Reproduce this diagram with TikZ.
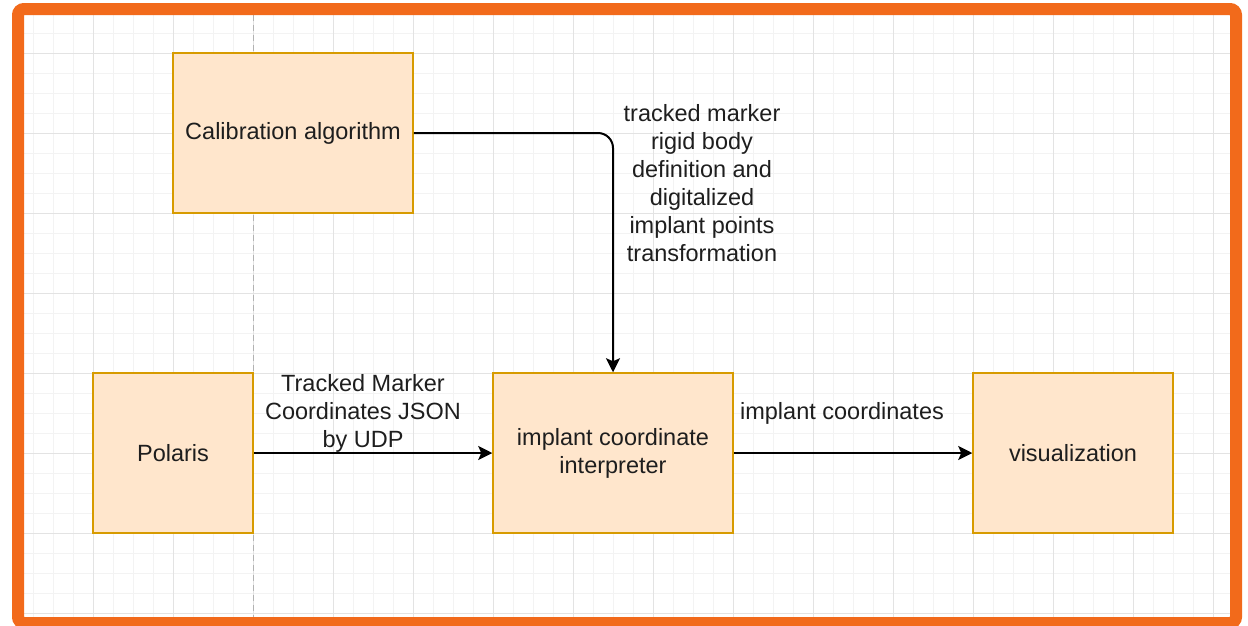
\documentclass[tikz,border=0pt]{standalone}
\usepackage{fontspec}
\setmainfont{Liberation Sans}
\usepackage{tikz}
\usetikzlibrary{arrows.meta}
\definecolor{frameorange}{RGB}{242,106,27}
\definecolor{stagefill}{HTML}{FFE6CC}
\definecolor{stageline}{HTML}{D79B00}
\definecolor{gridminor}{HTML}{F3F3F3}
\definecolor{gridmajor}{HTML}{E3E3E3}
\definecolor{inkgray}{HTML}{1E1E1E}
\tikzstyle{stage} = [rectangle, minimum width=240pt, minimum height=160pt, align=center, draw=stageline, fill=stagefill, line width=1.5pt, text=inkgray, font=\fontsize{23.5}{28}\selectfont]
\tikzstyle{note} = [align=center, text=inkgray, font=\fontsize{23.5}{28}\selectfont]
\tikzset{arw/.style={-{Stealth[length=14pt,width=14pt,inset=3pt]},line width=2pt}}

\begin{document}
\begin{tikzpicture}[x=1pt, y=-1pt, node distance=320pt]
			\useasboundingbox (0,0) rectangle (1248,625);
			\begin{scope}
			\clip (24,15) rectangle (1230,617);
			\foreach \x in {33,53,...,1213} \draw [gridminor, line width=1pt] (\x,15) -- (\x,617);
			\foreach \y in {33,53,...,613} \draw [gridminor, line width=1pt] (24,\y) -- (1230,\y);
			\foreach \x in {93,173,...,1213} \draw [gridmajor, line width=1pt] (\x,15) -- (\x,617);
			\foreach \y in {53,133,...,613} \draw [gridmajor, line width=1pt] (24,\y) -- (1230,\y);
			\draw [gray!60, line width=1pt, dash pattern=on 6pt off 4pt] (253,15) -- (253,617);
			\end{scope}
			\draw [frameorange, line width=12pt, rounded corners=6pt] (18,9) rectangle (1236,623);
			
			\node (calib) [stage] at (293,133) {Calibration algorithm};
			\node (polaris) [stage, minimum width=160pt, below of=calib, xshift=-120pt] {Polaris};
			\node (interp) [stage, right of=polaris, xshift=120pt] {implant coordinate\\interpreter};
			\node (vis) [stage, minimum width=200pt, right of=interp, xshift=140pt] {visualization};
			
			\node (calnote) [note] at (702,183) {tracked marker\\rigid body\\definition and\\digitalized\\implant points\\transformation};
			\node (polnote) [note] at (363,413) {Tracked Marker\\Coordinates JSON\\by UDP};
			\node (intnote) [note] at (842,413) {implant coordinates};
			
			\draw [arw, rounded corners=15pt] (calib) -| (interp);
			\draw [arw] (polaris) -- (interp);
			\draw [arw] (interp) -- (vis);
\end{tikzpicture}
\end{document}
